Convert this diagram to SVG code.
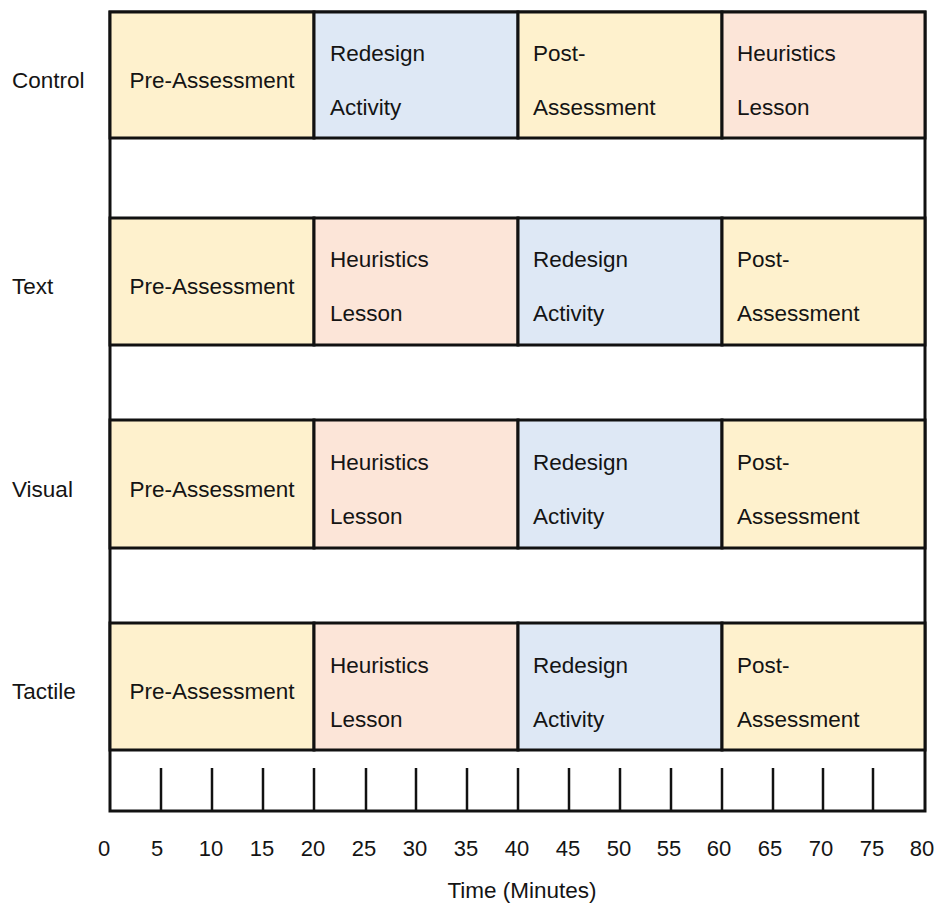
<svg xmlns="http://www.w3.org/2000/svg" width="937" height="903" viewBox="0 0 937 903">
<style>
text{font-family:"Liberation Sans",Arial,sans-serif;font-size:22.5px;fill:#141414}
.c{stroke:#111;stroke-width:3}
.pre{fill:#fef1cd}
.red{fill:#dee8f5}
.heu{fill:#fce5d8}
.mid{text-anchor:middle}
.tk{stroke:#111;stroke-width:2.5}
.ax{font-size:22px;text-anchor:middle}
</style>
<rect x="110" y="12" width="815" height="799" fill="#fff" class="c"/>
<g id="labels">
<text x="12" y="88">Control</text>
<text x="12" y="294">Text</text>
<text x="12" y="497">Visual</text>
<text x="12" y="699">Tactile</text>
</g>
<g id="control-pre"><rect x="110" y="12" width="204" height="126" class="c pre"/><text x="212" y="88" class="mid">Pre-Assessment</text></g>
<g id="control-redesign"><rect x="314" y="12" width="204" height="126" class="c red"/><text x="330" y="61">Redesign</text><text x="330" y="115">Activity</text></g>
<g id="control-post"><rect x="518" y="12" width="204" height="126" class="c pre"/><text x="533" y="61">Post-</text><text x="533" y="115">Assessment</text></g>
<g id="control-heuristics"><rect x="722" y="12" width="203" height="126" class="c heu"/><text x="737" y="61">Heuristics</text><text x="737" y="115">Lesson</text></g>

<g id="text-pre"><rect x="110" y="218" width="204" height="127" class="c pre"/><text x="212" y="294" class="mid">Pre-Assessment</text></g>
<g id="text-heuristics"><rect x="314" y="218" width="204" height="127" class="c heu"/><text x="330" y="267">Heuristics</text><text x="330" y="321">Lesson</text></g>
<g id="text-redesign"><rect x="518" y="218" width="204" height="127" class="c red"/><text x="533" y="267">Redesign</text><text x="533" y="321">Activity</text></g>
<g id="text-post"><rect x="722" y="218" width="203" height="127" class="c pre"/><text x="737" y="267">Post-</text><text x="737" y="321">Assessment</text></g>

<g id="visual-pre"><rect x="110" y="420" width="204" height="128" class="c pre"/><text x="212" y="497" class="mid">Pre-Assessment</text></g>
<g id="visual-heuristics"><rect x="314" y="420" width="204" height="128" class="c heu"/><text x="330" y="470">Heuristics</text><text x="330" y="524">Lesson</text></g>
<g id="visual-redesign"><rect x="518" y="420" width="204" height="128" class="c red"/><text x="533" y="470">Redesign</text><text x="533" y="524">Activity</text></g>
<g id="visual-post"><rect x="722" y="420" width="203" height="128" class="c pre"/><text x="737" y="470">Post-</text><text x="737" y="524">Assessment</text></g>

<g id="tactile-pre"><rect x="110" y="623" width="204" height="127" class="c pre"/><text x="212" y="699" class="mid">Pre-Assessment</text></g>
<g id="tactile-heuristics"><rect x="314" y="623" width="204" height="127" class="c heu"/><text x="330" y="673">Heuristics</text><text x="330" y="727">Lesson</text></g>
<g id="tactile-redesign"><rect x="518" y="623" width="204" height="127" class="c red"/><text x="533" y="673">Redesign</text><text x="533" y="727">Activity</text></g>
<g id="tactile-post"><rect x="722" y="623" width="203" height="127" class="c pre"/><text x="737" y="673">Post-</text><text x="737" y="727">Assessment</text></g>

<g id="ticks">
<line x1="161" y1="768" x2="161" y2="811" class="tk"/>
<line x1="212" y1="768" x2="212" y2="811" class="tk"/>
<line x1="263" y1="768" x2="263" y2="811" class="tk"/>
<line x1="314" y1="768" x2="314" y2="811" class="tk"/>
<line x1="366" y1="768" x2="366" y2="811" class="tk"/>
<line x1="416" y1="768" x2="416" y2="811" class="tk"/>
<line x1="467" y1="768" x2="467" y2="811" class="tk"/>
<line x1="518" y1="768" x2="518" y2="811" class="tk"/>
<line x1="569" y1="768" x2="569" y2="811" class="tk"/>
<line x1="620" y1="768" x2="620" y2="811" class="tk"/>
<line x1="671" y1="768" x2="671" y2="811" class="tk"/>
<line x1="722" y1="768" x2="722" y2="811" class="tk"/>
<line x1="773" y1="768" x2="773" y2="811" class="tk"/>
<line x1="823" y1="768" x2="823" y2="811" class="tk"/>
<line x1="873" y1="768" x2="873" y2="811" class="tk"/>
</g>
<g id="axis">
<text x="104" y="856" class="ax">0</text>
<text x="157" y="856" class="ax">5</text>
<text x="211" y="856" class="ax">10</text>
<text x="262" y="856" class="ax">15</text>
<text x="313" y="856" class="ax">20</text>
<text x="364" y="856" class="ax">25</text>
<text x="415" y="856" class="ax">30</text>
<text x="466" y="856" class="ax">35</text>
<text x="517" y="856" class="ax">40</text>
<text x="568" y="856" class="ax">45</text>
<text x="619" y="856" class="ax">50</text>
<text x="669" y="856" class="ax">55</text>
<text x="719" y="856" class="ax">60</text>
<text x="770" y="856" class="ax">65</text>
<text x="821" y="856" class="ax">70</text>
<text x="872" y="856" class="ax">75</text>
<text x="922" y="856" class="ax">80</text>
<text x="522" y="898" class="mid">Time (Minutes)</text>
</g>
</svg>
